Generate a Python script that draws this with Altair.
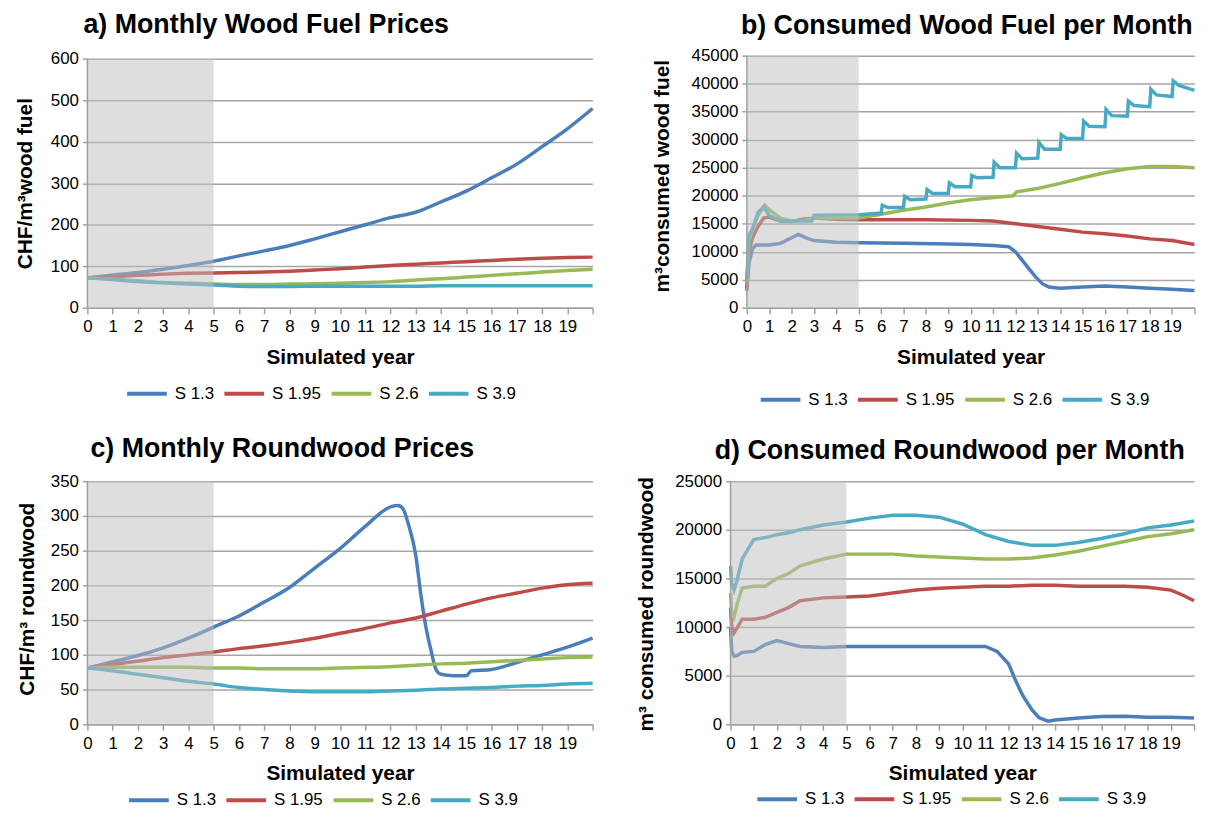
import altair as alt
import pandas as pd

SERIES = ["S 1.3", "S 1.95", "S 2.6", "S 3.9"]
COLORS = ["#4A7EBB", "#BE4B48", "#98B954", "#46AAC5"]
YEARS = list(range(21))
FONT = "Liberation Sans"

# a) Monthly Wood Fuel Prices (x = YEARS)
A_S13 = [72, 79, 85, 93, 102, 112, 125, 137, 150, 166, 183, 200, 217, 230, 255, 281, 313, 346, 388, 431, 480]
A_S195 = [72, 75, 78, 81, 83, 84, 85, 86, 88, 91, 94, 98, 102, 105, 108, 111, 114, 117, 119, 121, 122]
A_S26 = [72, 69, 65, 61, 59, 57, 56, 56, 57, 58, 59, 61, 63, 67, 70, 74, 78, 82, 86, 90, 93]
A_S39 = [72, 68, 63, 60, 57, 55, 52, 51, 51, 52, 52, 52, 52, 52, 53, 53, 53, 53, 53, 53, 53]

# b) Consumed Wood Fuel per Month
B_S13_X = [0, 0.1, 0.25, 0.4, 1, 1.5, 2, 2.3, 2.7, 3, 4, 5, 7, 9, 10, 11, 11.7, 12, 12.3, 12.6, 12.9, 13.2, 13.5, 14, 15, 16, 17, 18, 19, 20]
B_S13 = [3000, 8000, 10500, 11200, 11200, 11500, 12500, 13100, 12400, 12000, 11700, 11600, 11500, 11400, 11300, 11100, 10900, 10000, 8500, 7000, 5500, 4300, 3700, 3500, 3700, 3900, 3700, 3500, 3300, 3100]
B_S195_X = [0, 0.1, 0.25, 0.5, 0.75, 1, 1.5, 2, 2.5, 3, 4, 5, 6, 8, 10, 11, 12, 13, 14, 15, 16, 17, 18, 19, 20]
B_S195 = [3500, 10000, 12500, 14500, 16000, 16200, 15500, 15400, 15800, 16000, 15800, 15700, 15700, 15700, 15600, 15500, 15000, 14500, 14000, 13500, 13200, 12800, 12300, 12000, 11300]
B_S26_X = [0, 0.1, 0.25, 0.5, 0.8, 1, 1.5, 2, 2.5, 3, 5, 6, 7, 8, 9, 10, 11, 11.9, 12.05, 13, 14, 15, 16, 17, 18, 19, 20]
B_S26 = [4500, 12000, 14000, 16500, 18300, 17500, 16000, 15500, 15600, 16000, 16000, 16700, 17400, 18000, 18700, 19300, 19700, 20000, 20700, 21300, 22200, 23200, 24100, 24800, 25200, 25200, 25000]
B_S39_X = [0, 0.1, 0.25, 0.5, 0.75, 1, 1.5, 2.9, 3.0, 5.0,
           6.0, 6.05, 6.3, 7.0, 7.05, 7.3, 8.0, 8.05, 8.3, 9.0, 9.05, 9.3,
           10.0, 10.05, 10.3, 11.0, 11.05, 11.3, 12.0, 12.05, 12.3, 13.0, 13.05, 13.3,
           14.0, 14.05, 14.3, 15.0, 15.05, 15.3, 16.0, 16.05, 16.3, 17.0, 17.05, 17.3,
           18.0, 18.05, 18.3, 19.0, 19.05, 19.3, 20.0]
B_S39 = [5000, 13000, 14000, 17000, 18000, 16500, 15500, 15500, 16500, 16600,
         16900, 18300, 17900, 17900, 19900, 19300, 19400, 21100, 20400, 20400, 22300, 21600,
         21600, 23600, 23200, 23300, 26000, 25000, 25000, 27600, 26600, 26700, 29500, 28300,
         28300, 30900, 30200, 30200, 33300, 32400, 32300, 35400, 34300, 34200, 36900, 36100,
         35900, 39000, 38000, 37700, 40500, 39700, 38800]

# c) Monthly Roundwood Prices
C_S13_X = [0, 1, 2, 3, 4, 5, 6, 7, 8, 9, 10, 11, 12, 12.3, 12.5, 12.7, 13.0, 13.2, 13.4, 13.6, 13.8, 14, 14.5, 15, 15.2, 16, 17, 18, 19, 20]
C_S13 = [81, 90, 99, 110, 124, 140, 156, 176, 197, 225, 253, 285, 313, 315, 310, 289, 243, 187, 140, 107, 79, 72, 70, 70, 77, 79, 89, 100, 111, 124]
C_S195 = [81, 86, 91, 96, 100, 104, 109, 113, 118, 124, 131, 138, 146, 153, 163, 173, 182, 189, 196, 201, 203]
C_S26 = [81, 82, 82, 82, 82, 81, 81, 80, 80, 80, 81, 82, 83, 85, 87, 88, 90, 92, 94, 96, 97]
C_S39 = [81, 77, 72, 67, 62, 58, 53, 50, 48, 47, 47, 47, 48, 49, 51, 52, 53, 55, 56, 58, 59]

# d) Consumed Roundwood per Month
D_X = [0, 0.05, 0.15, 0.3, 0.5, 1, 1.5, 2, 2.5, 3, 4, 5, 6, 7, 8, 9, 10, 11, 12, 13, 14, 15, 16, 17, 18, 19, 20]
D_S13_X = [0, 0.05, 0.15, 0.3, 0.5, 1, 1.5, 2, 2.5, 3, 4, 5, 7, 9, 10, 11, 11.5, 12, 12.3, 12.6, 13, 13.3, 13.7, 14, 15, 16, 17, 18, 19, 20]
D_S13 = [10000, 7500, 7000, 7100, 7400, 7500, 8200, 8600, 8300, 8000, 7900, 8000, 8000, 8000, 8000, 8000, 7500, 6200, 4500, 3000, 1500, 700, 330, 450, 650, 800, 830, 730, 720, 650]
D_S195_X = [0, 0.05, 0.15, 0.3, 0.5, 1, 1.5, 2, 2.5, 3, 4, 5, 6, 7, 8, 9, 10, 11, 12, 13, 14, 15, 16, 17, 18, 19, 19.5, 20]
D_S195 = [12000, 10000, 9400, 10000, 10800, 10800, 11000, 11500, 12000, 12700, 13000, 13100, 13200, 13500, 13800, 14000, 14100, 14200, 14200, 14300, 14300, 14200, 14200, 14200, 14100, 13800, 13300, 12700]
D_S26 = [13500, 11500, 11000, 12500, 14000, 14200, 14200, 15000, 15500, 16300, 17000, 17500, 17500, 17500, 17300, 17200, 17100, 17000, 17000, 17100, 17400, 17800, 18300, 18800, 19300, 19600, 20000]
D_S39 = [16300, 14500, 13800, 15000, 17000, 19000, 19200, 19500, 19700, 20000, 20500, 20800, 21200, 21500, 21500, 21300, 20600, 19500, 18800, 18400, 18400, 18700, 19100, 19600, 20200, 20500, 20900]


def long_df(items):
    rows = []
    for name, xs, ys in items:
        for xv, yv in zip(xs, ys):
            rows.append({"year": xv, "value": yv, "series": name})
    return pd.DataFrame(rows)


def panel(items, title, dx, toffset, ytitle, ytpad, ytitle_y, ymax, ystep,
          w, h_frame, h_axis, lx, ly, interp):
    df = long_df(items)
    top = ymax * h_frame / h_axis
    xscale = alt.Scale(domain=[0, 20], nice=False, zero=False)
    yscale = alt.Scale(domain=[0, top], nice=False, zero=True)
    xaxis = alt.Axis(values=YEARS, labelExpr="datum.value >= 20 ? '' : datum.label",
                     title="Simulated year", grid=False, labelOverlap=False,
                     labelFlush=False, tickSize=6, labelPadding=5, titlePadding=12,
                     titleFontSize=21)
    yaxis = alt.Axis(values=list(range(0, ymax + 1, ystep)), format="d", title=ytitle,
                     grid=True, domain=False, tickSize=5, labelPadding=4,
                     titlePadding=ytpad, titleY=ytitle_y, labelOverlap=False,
                     titleFontSize=21)
    color = alt.Color("series:N", scale=alt.Scale(domain=SERIES, range=COLORS),
                      legend=alt.Legend(title=None, orient="none", legendX=lx, legendY=ly,
                                        direction="horizontal", symbolType="stroke",
                                        symbolSize=1600, symbolStrokeWidth=4,
                                        labelFontSize=17, labelFont=FONT, labelColor="black",
                                        columnPadding=2, labelOffset=6))
    lines = alt.Chart(df).mark_line(strokeWidth=3.5, interpolate=interp).encode(
        x=alt.X("year:Q", scale=xscale, axis=xaxis),
        y=alt.Y("value:Q", scale=yscale, axis=yaxis),
        color=color)
    one = pd.DataFrame({"a": [0]})
    shade = alt.Chart(one).mark_rect(color="#BDBDBD", opacity=0.5).encode(
        x=alt.XDatum(0, type="quantitative", scale=xscale, axis=xaxis), x2=alt.datum(5),
        y=alt.YDatum(0, type="quantitative", scale=yscale, axis=yaxis), y2=alt.datum(ymax))
    yline = alt.Chart(one).mark_rule(color="#A0A0A0", strokeWidth=1.5).encode(
        x=alt.XDatum(0, type="quantitative", scale=xscale, axis=xaxis),
        y=alt.YDatum(0, type="quantitative", scale=yscale, axis=yaxis), y2=alt.datum(ymax))
    return alt.layer(lines, shade, yline).properties(
        width=w, height=h_frame,
        title=alt.Title(title, anchor="start", frame="group", dx=dx, offset=toffset,
                        fontSize=27, font=FONT, fontWeight="bold", color="black"))


pa = panel([("S 1.3", YEARS, A_S13), ("S 1.95", YEARS, A_S195), ("S 2.6", YEARS, A_S26), ("S 3.9", YEARS, A_S39)],
           "a) Monthly Wood Fuel Prices", -4, 10.9, "CHF/m³wood fuel", 14.6, 128.5, 600, 100,
           509, 254, 251, 38, 318.6, "monotone")
pb = panel([("S 1.3", B_S13_X, B_S13), ("S 1.95", B_S195_X, B_S195), ("S 2.6", B_S26_X, B_S26), ("S 3.9", B_S39_X, B_S39)],
           "b) Consumed Wood Fuel per Month", -6, 6.9, "m³consumed wood fuel", 19, 121, 45000, 5000,
           451, 254, 254, 12, 324.6, "linear")
pc = panel([("S 1.3", C_S13_X, C_S13), ("S 1.95", YEARS, C_S195), ("S 2.6", YEARS, C_S26), ("S 3.9", YEARS, C_S39)],
           "c) Monthly Roundwood Prices", 3, 9.5, "CHF/m³ roundwood", 13, 118.5, 350, 50,
           509, 245, 245, 40, 299.5, "monotone")
pd_ = panel([("S 1.3", D_S13_X, D_S13), ("S 1.95", D_S195_X, D_S195), ("S 2.6", D_X, D_S26), ("S 3.9", D_X, D_S39)],
            "d) Consumed Roundwood per Month", -16, 7.5, "m³ consumed roundwood", 18.4, 123.5, 25000, 5000,
            467, 245, 245, 25, 298.5, "linear")

row1 = alt.hconcat(pa, pb, spacing=51.4).resolve_scale(color="independent").resolve_legend(color="independent")
row2 = alt.hconcat(pc, pd_, spacing=36).resolve_scale(color="independent").resolve_legend(color="independent")

chart = alt.vconcat(row1, row2, spacing=26.7).resolve_scale(
    color="independent").resolve_legend(color="independent").properties(
    padding={"left": 7, "top": 0, "right": 0, "bottom": 0}).configure_axis(
    labelFont=FONT, titleFont=FONT, labelFontSize=17, labelColor="black", titleColor="black",
    titleFontWeight="bold", domainColor="#A0A0A0", tickColor="#A0A0A0", gridColor="#A6A6A6",
    domainWidth=1.5, tickWidth=1.5, gridWidth=1.5, labelOverlap=False
).configure_view(stroke=None)

chart.save("out.html", embed_options={"renderer": "svg", "actions": False})
